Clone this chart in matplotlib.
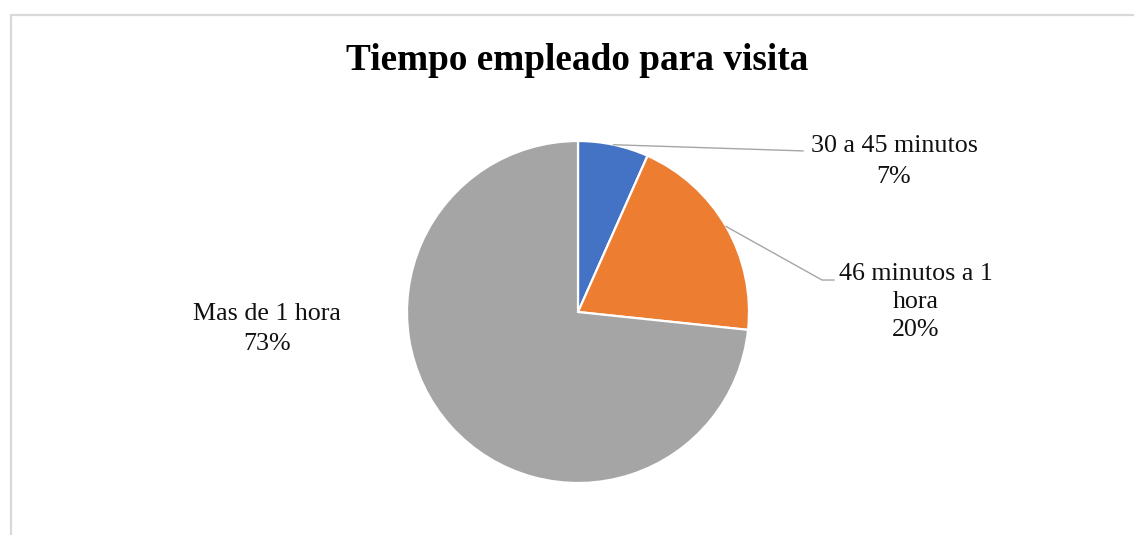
import numpy as np
import matplotlib.pyplot as plt
from matplotlib.patches import Rectangle

# Data
categorias = ['30 a 45 minutos', '46 minutos a 1\nhora', 'Mas de 1 hora']
valores = [2, 6, 22]
colores = ['#4472C4', '#ED7D31', '#A5A5A5']

plt.rcParams['font.family'] = ['Liberation Serif', 'DejaVu Serif']

W, H = 1134, 535
cx, cy, r = 578, 312, 171  # pie centre / radius in pixels

fig = plt.figure(figsize=(W / 100, H / 100), dpi=100)
ax = fig.add_axes([0, 0, 1, 1])

wedges, _ = ax.pie(valores, colors=colores, startangle=90, counterclock=False,
                   wedgeprops=dict(edgecolor='white', linewidth=1.6))
ax.set_xlim(-cx / r, (W - cx) / r)
ax.set_ylim(-(H - cy) / r, cy / r)
ax.set_aspect('equal')
ax.axis('off')

total = sum(valores)
pct = [f'{round(v / total * 100)}%' for v in valores]

# label positions (data units) and leader lines
pos_texto = [(1.848, 0.88), (1.977, 0.058), (-1.819, -0.10)]
fin_linea = [[(1.316, 0.942)], [(1.427, 0.187), (1.497, 0.187)], None]
interlineado = [1.48, 1.36, 1.48]

for w, cat, p, (tx, ty), linea, ls in zip(wedges, categorias, pct, pos_texto,
                                          fin_linea, interlineado):
    ang = np.deg2rad((w.theta1 + w.theta2) / 2)
    if linea is not None:
        xs = [np.cos(ang)] + [pt[0] for pt in linea]
        ys = [np.sin(ang)] + [pt[1] for pt in linea]
        ax.plot(xs, ys, color='#A6A6A6', linewidth=1.0, clip_on=False)
    ax.text(tx, ty, f'{cat}\n{p}', ha='center', va='center',
            multialignment='center', fontsize=18.7, linespacing=ls,
            color='#111111')

fig.text(577.5 / W, 1 - 70 / H, 'Tiempo empleado para visita',
         ha='center', va='baseline', fontsize=26.8, fontweight='bold')

# chart area border
fig.patches.append(Rectangle((10.5 / W, -0.1), 1.2, 1 - 14.5 / H + 0.1,
                             transform=fig.transFigure, fill=False,
                             edgecolor='#D9D9D9', linewidth=1.6))

fig.savefig('out.png', dpi=100, facecolor='white')
